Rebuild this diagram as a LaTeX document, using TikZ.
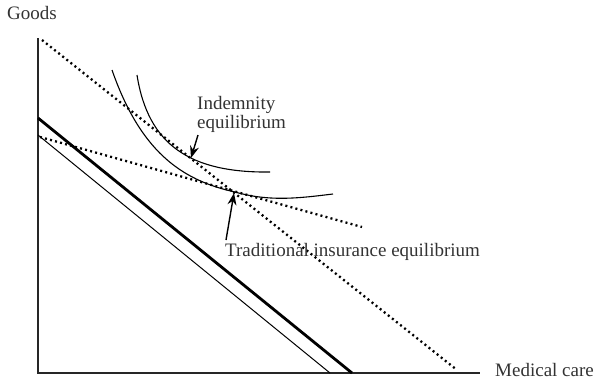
\documentclass[tikz,border=0pt]{standalone}
\usepackage{fontspec}
\setmainfont{Liberation Serif}
\usetikzlibrary{arrows.meta}
\begin{document}
\begin{tikzpicture}[x=1pt,y=-1pt,
  lbl/.style={anchor=base west,inner sep=0pt,font=\fontsize{19}{20}\selectfont,text=black!80},
  axis/.style={line width=1.3pt,black!85},
  budget/.style={line width=1pt},
  budgetthick/.style={line width=2.8pt},
  dotline/.style={line width=2.3pt,dash pattern=on 2pt off 3.2pt},
  icurve/.style={line width=1.1pt},
  pointer/.style={line width=1.4pt,-{Stealth[length=12pt,width=9pt]}}]
\useasboundingbox (0,0) rectangle (596,383);
% axes
\coordinate (O) at (38,373);
\coordinate (Ytop) at (38,38);
\coordinate (Xend) at (480,373);
\draw[axis] (Ytop) -- (O) -- (Xend);
\node[lbl] (goods) at (7,19) {Goods};
\node[lbl] (medical) at (495,376) {Medical care};
% budget lines
\coordinate (thickA) at (38,118);
\coordinate (thickB) at (352,373);
\draw[budgetthick] (thickA) -- (thickB);
\coordinate (thinA) at (38,135);
\coordinate (thinB) at (330,373);
\draw[budget] (thinA) -- (thinB);
% dotted lines
\coordinate (outA) at (42,40);
\coordinate (outB) at (457,370);
\draw[dotline] (outA) -- (outB);
\coordinate (inA) at (40,137);
\coordinate (inB) at (362,227);
\draw[dotline] (inA) -- (inB);
% indifference curves
\draw[icurve] (112,70) .. controls (140,150) and (180,180) .. (235,192)
  .. controls (270,202) and (300,198) .. (333,194);
\draw[icurve] (137,75) .. controls (148,145) and (190,173) .. (270,172);
% labels
\node[lbl] (indem) at (197,109) {Indemnity};
\node[lbl] (indeq) at (197,128) {equilibrium};
\node[lbl] (trad) at (225,256) {Traditional insurance equilibrium};
\coordinate (indemFrom) at (198,135);
\coordinate (indemTip) at (191,158);
\coordinate (tradFrom) at (226,240);
\coordinate (tradTip) at (234,193);
\draw[pointer] (indemFrom) -- (indemTip);
\draw[pointer] (tradFrom) -- (tradTip);
\end{tikzpicture}
\end{document}
